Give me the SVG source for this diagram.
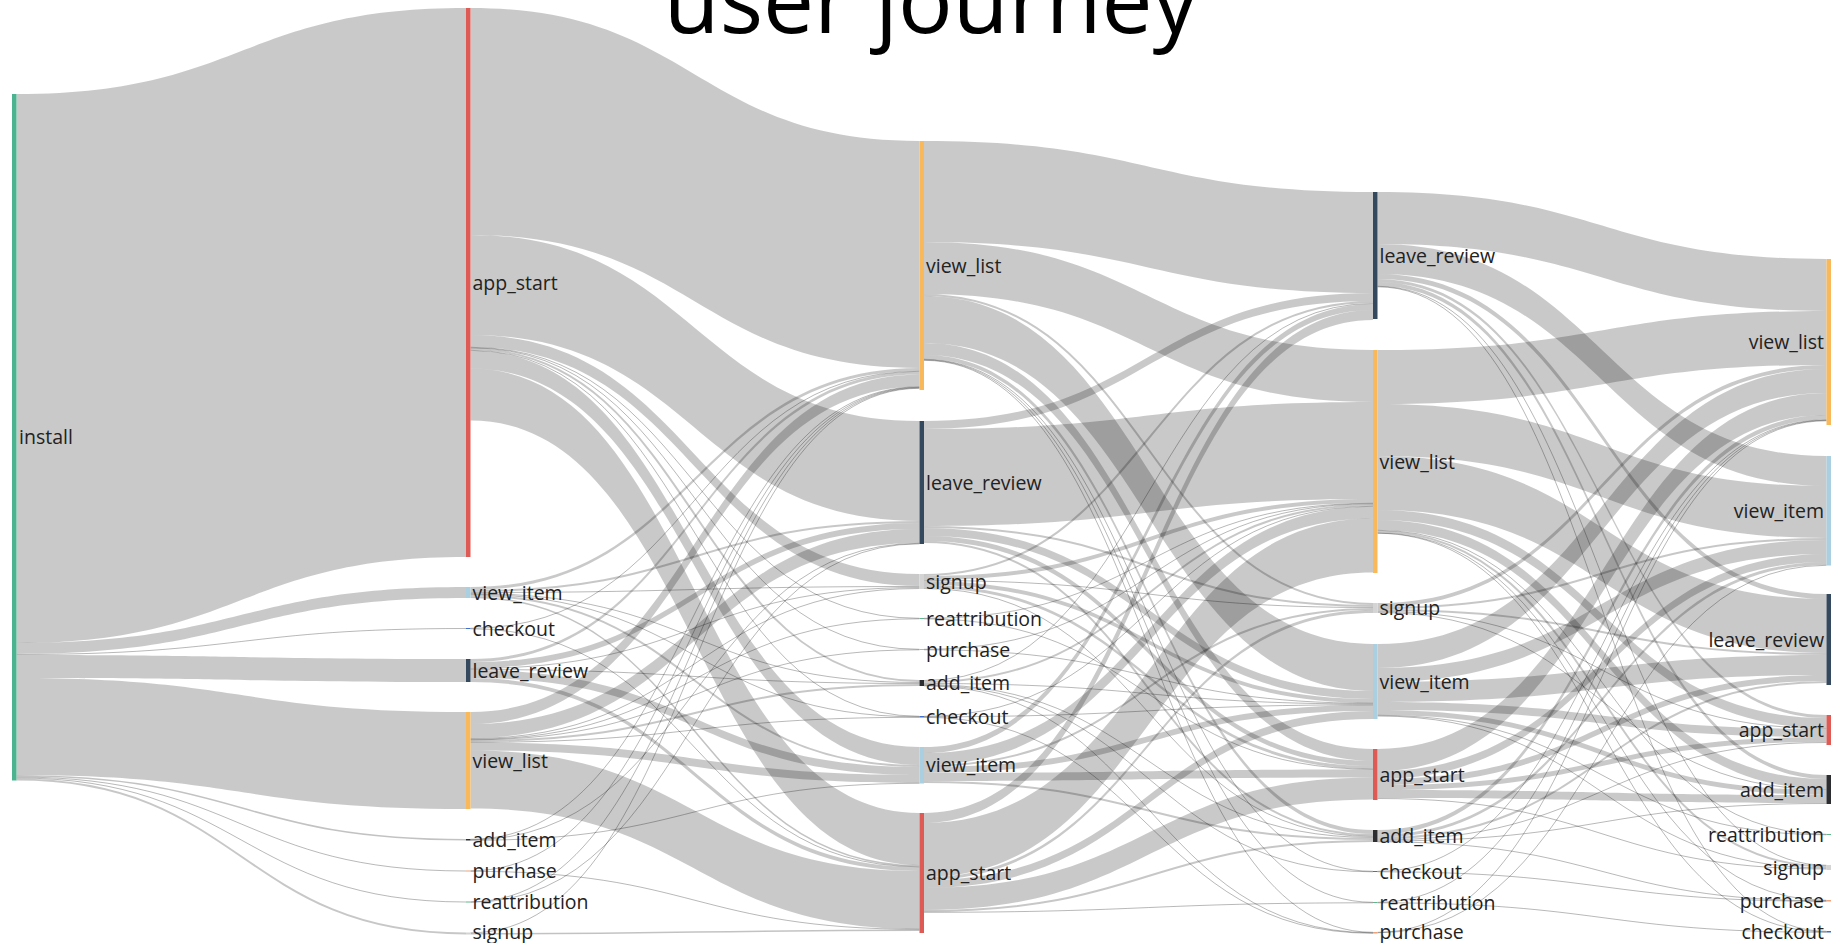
<svg xmlns="http://www.w3.org/2000/svg" width="1843" height="943" viewBox="0 0 1843 943">
<style>
.b{fill:#000;fill-opacity:.21}
.h{fill:none;stroke:#000;stroke-opacity:.28;stroke-width:1}
.m{fill:none;stroke:#000;stroke-opacity:.24;stroke-width:1.5}
.w{fill:none;stroke:#000;stroke-opacity:.22;stroke-width:2}
.lbl{font-family:"Open Sans","DejaVu Sans",sans-serif;font-size:19.5px;fill:#222}
.end{text-anchor:end}
.ttl{font-family:"Open Sans","DejaVu Sans",sans-serif;font-size:91px;fill:#000;text-anchor:middle}
.c-install{fill:#4cb391}.c-app{fill:#e05a55}.c-vi{fill:#a9cfe0}.c-co{fill:#3f6fd0}.c-lr{fill:#34495e}
.c-vl{fill:#f9b95a}.c-ai{fill:#2b2d30}.c-pu{fill:#f0a27a}.c-re{fill:#5cb88a}.c-su{fill:#d4d4d4}
</style>
<rect width="1843" height="943" fill="#fff"/>
<text class="ttl" x="931" y="33">user journey</text>

<g id="links">
<!-- step 0 -> step 1 -->
<path class="b" d="M16.5 94C241.3 94 241.3 8 466 8V557C241.3 557 241.3 643 16.5 643Z"/>
<path class="b" d="M16.5 643C241.3 643 241.3 587 466 587V598C241.3 598 241.3 654 16.5 654Z"/>
<path class="h" d="M16.5 654.5C241.3 654.5 241.3 628.5 466 628.5"/>
<path class="b" d="M16.5 655C241.3 655 241.3 659 466 659V682C241.3 682 241.3 678 16.5 678Z"/>
<path class="b" d="M16.5 678C241.3 678 241.3 712 466 712V809C241.3 809 241.3 775 16.5 775Z"/>
<path class="m" d="M16.5 775.8C241.3 775.8 241.3 839.8 466 839.8"/>
<path class="h" d="M16.5 777C241.3 777 241.3 871 466 871"/>
<path class="h" d="M16.5 778C241.3 778 241.3 902 466 902"/>
<path class="w" d="M16.5 779.5C241.3 779.5 241.3 933.5 466 933.5"/>

<!-- step 1 -> step 2 -->
<path class="b" d="M470.5 8C695 8 695 141 919.5 141V368C695 368 695 235 470.5 235Z"/>
<path class="b" d="M470.5 235C695 235 695 421 919.5 421V521C695 521 695 335 470.5 335Z"/>
<path class="b" d="M470.5 335C695 335 695 574 919.5 574V586C695 586 695 347 470.5 347Z"/>
<path class="h" d="M470.5 347.3C695 347.3 695 618.3 919.5 618.3"/>
<path class="h" d="M470.5 347.8C695 347.8 695 649.3 919.5 649.3"/>
<path class="w" d="M470.5 349C695 349 695 681 919.5 681"/>
<path class="h" d="M470.5 350.3C695 350.3 695 716.3 919.5 716.3"/>
<path class="b" d="M470.5 350.5C695 350.5 695 747 919.5 747V765C695 765 695 368.5 470.5 368.5Z"/>
<path class="b" d="M470.5 368.5C695 368.5 695 813 919.5 813V865C695 865 695 420.5 470.5 420.5Z"/>
<path class="b" d="M470.5 587C695 587 695 368 919.5 368V371C695 371 695 590 470.5 590Z"/>
<path class="w" d="M470.5 591C695 591 695 522 919.5 522"/>
<path class="h" d="M470.5 592.5C695 592.5 695 586.5 919.5 586.5"/>
<path class="h" d="M470.5 593.5C695 593.5 695 682.5 919.5 682.5"/>
<path class="h" d="M470.5 594.3C695 594.3 695 716.8 919.5 716.8"/>
<path class="w" d="M470.5 595.5C695 595.5 695 766 919.5 766"/>
<path class="m" d="M470.5 597.3C695 597.3 695 865.8 919.5 865.8"/>
<path class="h" d="M470.5 628.3C695 628.3 695 371.3 919.5 371.3"/>
<path class="h" d="M470.5 628.8C695 628.8 695 866.8 919.5 866.8"/>
<path class="b" d="M470.5 659C695 659 695 371.5 919.5 371.5V374.5C695 374.5 695 662 470.5 662Z"/>
<path class="b" d="M470.5 662C695 662 695 523 919.5 523V529C695 529 695 668 470.5 668Z"/>
<path class="h" d="M470.5 668.5C695 668.5 695 587.5 919.5 587.5"/>
<path class="h" d="M470.5 669.5C695 669.5 695 683.5 919.5 683.5"/>
<path class="b" d="M470.5 670C695 670 695 767 919.5 767V775C695 775 695 678 470.5 678Z"/>
<path class="b" d="M470.5 678C695 678 695 867 919.5 867V871C695 871 695 682 470.5 682Z"/>
<path class="b" d="M470.5 712C695 712 695 374.5 919.5 374.5V386.5C695 386.5 695 724 470.5 724Z"/>
<path class="b" d="M470.5 724C695 724 695 529 919.5 529V543C695 543 695 738 470.5 738Z"/>
<path class="h" d="M470.5 738.5C695 738.5 695 588.5 919.5 588.5"/>
<path class="h" d="M470.5 739.3C695 739.3 695 618.8 919.5 618.8"/>
<path class="h" d="M470.5 739.8C695 739.8 695 649.8 919.5 649.8"/>
<path class="w" d="M470.5 741C695 741 695 685 919.5 685"/>
<path class="h" d="M470.5 742.3C695 742.3 695 717.3 919.5 717.3"/>
<path class="b" d="M470.5 742.5C695 742.5 695 775 919.5 775V783C695 783 695 750.5 470.5 750.5Z"/>
<path class="b" d="M470.5 750.5C695 750.5 695 871 919.5 871V929C695 929 695 808.5 470.5 808.5Z"/>
<path class="h" d="M470.5 839.3C695 839.3 695 386.8 919.5 386.8"/>
<path class="h" d="M470.5 839.8C695 839.8 695 543.3 919.5 543.3"/>
<path class="h" d="M470.5 840.3C695 840.3 695 783.3 919.5 783.3"/>
<path class="h" d="M470.5 870.8C695 870.8 695 387.3 919.5 387.3"/>
<path class="h" d="M470.5 871.3C695 871.3 695 929.3 919.5 929.3"/>
<path class="h" d="M470.5 901.8C695 901.8 695 387.8 919.5 387.8"/>
<path class="h" d="M470.5 902.3C695 902.3 695 543.8 919.5 543.8"/>
<path class="h" d="M470.5 932.8C695 932.8 695 388.3 919.5 388.3"/>
<path class="m" d="M470.5 933.8C695 933.8 695 930.3 919.5 930.3"/>

<!-- step 2 -> step 3 -->
<path class="b" d="M924 141C1148.5 141 1148.5 192 1373 192V293C1148.5 293 1148.5 242 924 242Z"/>
<path class="b" d="M924 242C1148.5 242 1148.5 350 1373 350V402C1148.5 402 1148.5 294 924 294Z"/>
<path class="w" d="M924 295C1148.5 295 1148.5 604 1373 604"/>
<path class="b" d="M924 296C1148.5 296 1148.5 644 1373 644V691C1148.5 691 1148.5 343 924 343Z"/>
<path class="b" d="M924 343C1148.5 343 1148.5 749 1373 749V761C1148.5 761 1148.5 355 924 355Z"/>
<path class="b" d="M924 355C1148.5 355 1148.5 830 1373 830V834C1148.5 834 1148.5 359 924 359Z"/>
<path class="h" d="M924 359.3C1148.5 359.3 1148.5 871.3 1373 871.3"/>
<path class="h" d="M924 359.8C1148.5 359.8 1148.5 902.3 1373 902.3"/>
<path class="h" d="M924 360.3C1148.5 360.3 1148.5 932.3 1373 932.3"/>
<path class="b" d="M924 421C1148.5 421 1148.5 293 1373 293V301C1148.5 301 1148.5 429 924 429Z"/>
<path class="b" d="M924 429C1148.5 429 1148.5 402 1373 402V499C1148.5 499 1148.5 526 924 526Z"/>
<path class="w" d="M924 527C1148.5 527 1148.5 606 1373 606"/>
<path class="b" d="M924 528C1148.5 528 1148.5 691 1373 691V699C1148.5 699 1148.5 536 924 536Z"/>
<path class="b" d="M924 536C1148.5 536 1148.5 761 1373 761V766C1148.5 766 1148.5 541 924 541Z"/>
<path class="w" d="M924 542C1148.5 542 1148.5 835 1373 835"/>
<path class="w" d="M924 575C1148.5 575 1148.5 302 1373 302"/>
<path class="b" d="M924 576C1148.5 576 1148.5 499 1373 499V503C1148.5 503 1148.5 580 924 580Z"/>
<path class="h" d="M924 580.5C1148.5 580.5 1148.5 607.5 1373 607.5"/>
<path class="b" d="M924 581C1148.5 581 1148.5 699 1373 699V703C1148.5 703 1148.5 585 924 585Z"/>
<path class="b" d="M924 585C1148.5 585 1148.5 766 1373 766V769C1148.5 769 1148.5 588 924 588Z"/>
<path class="h" d="M924 588.5C1148.5 588.5 1148.5 836.5 1373 836.5"/>
<path class="h" d="M924 618.3C1148.5 618.3 1148.5 503.3 1373 503.3"/>
<path class="h" d="M924 618.8C1148.5 618.8 1148.5 769.3 1373 769.3"/>
<path class="h" d="M924 649.3C1148.5 649.3 1148.5 503.8 1373 503.8"/>
<path class="h" d="M924 649.8C1148.5 649.8 1148.5 703.3 1373 703.3"/>
<path class="h" d="M924 680.5C1148.5 680.5 1148.5 303.5 1373 303.5"/>
<path class="w" d="M924 682C1148.5 682 1148.5 505 1373 505"/>
<path class="h" d="M924 683.5C1148.5 683.5 1148.5 704 1373 704"/>
<path class="h" d="M924 684.5C1148.5 684.5 1148.5 837.5 1373 837.5"/>
<path class="h" d="M924 685.3C1148.5 685.3 1148.5 871.8 1373 871.8"/>
<path class="h" d="M924 685.8C1148.5 685.8 1148.5 932.8 1373 932.8"/>
<path class="h" d="M924 716.3C1148.5 716.3 1148.5 506.3 1373 506.3"/>
<path class="h" d="M924 716.8C1148.5 716.8 1148.5 704.8 1373 704.8"/>
<path class="h" d="M924 717.3C1148.5 717.3 1148.5 933.3 1373 933.3"/>
<path class="b" d="M924 747C1148.5 747 1148.5 304 1373 304V310C1148.5 310 1148.5 753 924 753Z"/>
<path class="b" d="M924 753C1148.5 753 1148.5 506.5 1373 506.5V518.5C1148.5 518.5 1148.5 765 924 765Z"/>
<path class="w" d="M924 766C1148.5 766 1148.5 609 1373 609"/>
<path class="b" d="M924 767C1148.5 767 1148.5 705 1373 705V711C1148.5 711 1148.5 773 924 773Z"/>
<path class="b" d="M924 773C1148.5 773 1148.5 769.5 1373 769.5V777.5C1148.5 777.5 1148.5 781 924 781Z"/>
<path class="w" d="M924 782C1148.5 782 1148.5 839 1373 839"/>
<path class="b" d="M924 813C1148.5 813 1148.5 310 1373 310V320C1148.5 320 1148.5 823 924 823Z"/>
<path class="b" d="M924 823C1148.5 823 1148.5 518.5 1373 518.5V572.5C1148.5 572.5 1148.5 877 924 877Z"/>
<path class="b" d="M924 877C1148.5 877 1148.5 610 1373 610V613C1148.5 613 1148.5 880 924 880Z"/>
<path class="b" d="M924 880C1148.5 880 1148.5 711 1373 711V719C1148.5 719 1148.5 888 924 888Z"/>
<path class="b" d="M924 888C1148.5 888 1148.5 777.5 1373 777.5V799.5C1148.5 799.5 1148.5 910 924 910Z"/>
<path class="w" d="M924 911C1148.5 911 1148.5 841 1373 841"/>
<path class="h" d="M924 912.3C1148.5 912.3 1148.5 902.8 1373 902.8"/>

<!-- step 3 -> step 4 -->
<path class="b" d="M1377.5 192C1602 192 1602 259 1826.5 259V311C1602 311 1602 244 1377.5 244Z"/>
<path class="b" d="M1377.5 244C1602 244 1602 456 1826.5 456V486C1602 486 1602 274 1377.5 274Z"/>
<path class="b" d="M1377.5 274C1602 274 1602 594 1826.5 594V599C1602 599 1602 279 1377.5 279Z"/>
<path class="b" d="M1377.5 279C1602 279 1602 715 1826.5 715V718C1602 718 1602 282 1377.5 282Z"/>
<path class="b" d="M1377.5 282C1602 282 1602 775 1826.5 775V779C1602 779 1602 286 1377.5 286Z"/>
<path class="h" d="M1377.5 286.3C1602 286.3 1602 865.3 1826.5 865.3"/>
<path class="h" d="M1377.5 286.8C1602 286.8 1602 931.3 1826.5 931.3"/>
<path class="b" d="M1377.5 350C1602 350 1602 311 1826.5 311V365C1602 365 1602 404 1377.5 404Z"/>
<path class="b" d="M1377.5 404C1602 404 1602 486 1826.5 486V538C1602 538 1602 456 1377.5 456Z"/>
<path class="b" d="M1377.5 456C1602 456 1602 599 1826.5 599V653C1602 653 1602 510 1377.5 510Z"/>
<path class="b" d="M1377.5 510C1602 510 1602 718 1826.5 718V728C1602 728 1602 520 1377.5 520Z"/>
<path class="b" d="M1377.5 520C1602 520 1602 779 1826.5 779V789C1602 789 1602 530 1377.5 530Z"/>
<path class="h" d="M1377.5 530.3C1602 530.3 1602 834.3 1826.5 834.3"/>
<path class="w" d="M1377.5 531.5C1602 531.5 1602 866.5 1826.5 866.5"/>
<path class="h" d="M1377.5 532.8C1602 532.8 1602 900.3 1826.5 900.3"/>
<path class="h" d="M1377.5 533.3C1602 533.3 1602 931.8 1826.5 931.8"/>
<path class="b" d="M1377.5 603C1602 603 1602 365 1826.5 365V369C1602 369 1602 607 1377.5 607Z"/>
<path class="w" d="M1377.5 608C1602 608 1602 539 1826.5 539"/>
<path class="w" d="M1377.5 610C1602 610 1602 654 1826.5 654"/>
<path class="h" d="M1377.5 611.5C1602 611.5 1602 728.5 1826.5 728.5"/>
<path class="h" d="M1377.5 612.5C1602 612.5 1602 789.5 1826.5 789.5"/>
<path class="b" d="M1377.5 644C1602 644 1602 369 1826.5 369V393C1602 393 1602 668 1377.5 668Z"/>
<path class="b" d="M1377.5 668C1602 668 1602 540 1826.5 540V554C1602 554 1602 682 1377.5 682Z"/>
<path class="b" d="M1377.5 682C1602 682 1602 655 1826.5 655V675C1602 675 1602 702 1377.5 702Z"/>
<path class="b" d="M1377.5 702C1602 702 1602 729 1826.5 729V737C1602 737 1602 710 1377.5 710Z"/>
<path class="b" d="M1377.5 710C1602 710 1602 790 1826.5 790V795C1602 795 1602 715 1377.5 715Z"/>
<path class="h" d="M1377.5 715.3C1602 715.3 1602 834.8 1826.5 834.8"/>
<path class="h" d="M1377.5 716C1602 716 1602 868 1826.5 868"/>
<path class="b" d="M1377.5 749C1602 749 1602 393 1826.5 393V415C1602 415 1602 771 1377.5 771Z"/>
<path class="b" d="M1377.5 771C1602 771 1602 554 1826.5 554V562C1602 562 1602 779 1377.5 779Z"/>
<path class="b" d="M1377.5 779C1602 779 1602 675 1826.5 675V681C1602 681 1602 785 1377.5 785Z"/>
<path class="b" d="M1377.5 785C1602 785 1602 737 1826.5 737V742C1602 742 1602 790 1377.5 790Z"/>
<path class="b" d="M1377.5 790C1602 790 1602 795 1826.5 795V803C1602 803 1602 798 1377.5 798Z"/>
<path class="h" d="M1377.5 798.5C1602 798.5 1602 869 1826.5 869"/>
<path class="b" d="M1377.5 830C1602 830 1602 415 1826.5 415V419.5C1602 419.5 1602 834.5 1377.5 834.5Z"/>
<path class="b" d="M1377.5 834.5C1602 834.5 1602 562 1826.5 562V565C1602 565 1602 837.5 1377.5 837.5Z"/>
<path class="w" d="M1377.5 838.5C1602 838.5 1602 682 1826.5 682"/>
<path class="h" d="M1377.5 840C1602 840 1602 742.5 1826.5 742.5"/>
<path class="h" d="M1377.5 841C1602 841 1602 803.5 1826.5 803.5"/>
<path class="h" d="M1377.5 841.8C1602 841.8 1602 900.8 1826.5 900.8"/>
<path class="h" d="M1377.5 871.3C1602 871.3 1602 419.8 1826.5 419.8"/>
<path class="h" d="M1377.5 871.8C1602 871.8 1602 901.3 1826.5 901.3"/>
<path class="h" d="M1377.5 902.3C1602 902.3 1602 420.3 1826.5 420.3"/>
<path class="h" d="M1377.5 902.8C1602 902.8 1602 932.3 1826.5 932.3"/>
<path class="h" d="M1377.5 932.3C1602 932.3 1602 420.8 1826.5 420.8"/>
<path class="h" d="M1377.5 932.8C1602 932.8 1602 565.3 1826.5 565.3"/>
</g>

<!-- step 0 -->
<g id="n0-install"><rect class="c-install" x="12" y="94" width="4.5" height="686.5"/><text class="lbl" x="19" y="444">install</text></g>

<!-- step 1 -->
<g id="n1-app_start"><rect class="c-app" x="466" y="8" width="4.5" height="549"/><text class="lbl" x="472.5" y="289.5">app_start</text></g>
<g id="n1-view_item"><rect class="c-vi" x="466" y="587" width="4.5" height="11"/><text class="lbl" x="472.5" y="599.5">view_item</text></g>
<g id="n1-checkout"><rect class="c-co" x="466" y="628" width="4.5" height="1"/><text class="lbl" x="472.5" y="635.5">checkout</text></g>
<g id="n1-leave_review"><rect class="c-lr" x="466" y="659" width="4.5" height="23"/><text class="lbl" x="472.5" y="677.5">leave_review</text></g>
<g id="n1-view_list"><rect class="c-vl" x="466" y="712" width="4.5" height="97"/><text class="lbl" x="472.5" y="767.5">view_list</text></g>
<g id="n1-add_item"><rect class="c-ai" x="466" y="839" width="4.5" height="1.5"/><text class="lbl" x="472.5" y="846.5">add_item</text></g>
<g id="n1-purchase"><rect class="c-pu" x="466" y="870.5" width="4.5" height="1"/><text class="lbl" x="472.5" y="878">purchase</text></g>
<g id="n1-reattribution"><rect class="c-re" x="466" y="901.5" width="4.5" height="1"/><text class="lbl" x="472.5" y="908.5">reattribution</text></g>
<g id="n1-signup"><rect class="c-su" x="466" y="932.5" width="4.5" height="2"/><text class="lbl" x="472.5" y="939">signup</text></g>

<!-- step 2 -->
<g id="n2-view_list"><rect class="c-vl" x="919.5" y="141" width="4.5" height="249"/><text class="lbl" x="926" y="272.5">view_list</text></g>
<g id="n2-leave_review"><rect class="c-lr" x="919.5" y="421" width="4.5" height="123"/><text class="lbl" x="926" y="489.5">leave_review</text></g>
<g id="n2-signup"><rect class="c-su" x="919.5" y="574" width="4.5" height="15"/><text class="lbl" x="926" y="588.5">signup</text></g>
<g id="n2-reattribution"><rect class="c-re" x="919.5" y="618" width="4.5" height="1"/><text class="lbl" x="926" y="625.5">reattribution</text></g>
<g id="n2-purchase"><rect class="c-pu" x="919.5" y="649" width="4.5" height="1"/><text class="lbl" x="926" y="656.5">purchase</text></g>
<g id="n2-add_item"><rect class="c-ai" x="919.5" y="680" width="4.5" height="6"/><text class="lbl" x="926" y="690">add_item</text></g>
<g id="n2-checkout"><rect class="c-co" x="919.5" y="716" width="4.5" height="1.5"/><text class="lbl" x="926" y="723.5">checkout</text></g>
<g id="n2-view_item"><rect class="c-vi" x="919.5" y="747" width="4.5" height="36.5"/><text class="lbl" x="926" y="772">view_item</text></g>
<g id="n2-app_start"><rect class="c-app" x="919.5" y="813" width="4.5" height="120"/><text class="lbl" x="926" y="880">app_start</text></g>

<!-- step 3 -->
<g id="n3-leave_review"><rect class="c-lr" x="1373" y="192" width="4.5" height="127"/><text class="lbl" x="1379.5" y="262.5">leave_review</text></g>
<g id="n3-view_list"><rect class="c-vl" x="1373" y="350" width="4.5" height="223"/><text class="lbl" x="1379.5" y="468.5">view_list</text></g>
<g id="n3-signup"><rect class="c-su" x="1373" y="603" width="4.5" height="10"/><text class="lbl" x="1379.5" y="615">signup</text></g>
<g id="n3-view_item"><rect class="c-vi" x="1373" y="644" width="4.5" height="75"/><text class="lbl" x="1379.5" y="688.5">view_item</text></g>
<g id="n3-app_start"><rect class="c-app" x="1373" y="749" width="4.5" height="51"/><text class="lbl" x="1379.5" y="781.5">app_start</text></g>
<g id="n3-add_item"><rect class="c-ai" x="1373" y="830" width="4.5" height="12"/><text class="lbl" x="1379.5" y="843">add_item</text></g>
<g id="n3-checkout"><rect class="c-co" x="1373" y="871" width="4.5" height="1"/><text class="lbl" x="1379.5" y="878.5">checkout</text></g>
<g id="n3-reattribution"><rect class="c-re" x="1373" y="902" width="4.5" height="1"/><text class="lbl" x="1379.5" y="909.5">reattribution</text></g>
<g id="n3-purchase"><rect class="c-pu" x="1373" y="932" width="4.5" height="1.5"/><text class="lbl" x="1379.5" y="939">purchase</text></g>

<!-- step 4 -->
<g id="n4-view_list"><rect class="c-vl" x="1826.5" y="259" width="4.5" height="166"/><text class="lbl end" x="1824" y="349">view_list</text></g>
<g id="n4-view_item"><rect class="c-vi" x="1826.5" y="456" width="4.5" height="109.5"/><text class="lbl end" x="1824" y="517.5">view_item</text></g>
<g id="n4-leave_review"><rect class="c-lr" x="1826.5" y="594" width="4.5" height="91"/><text class="lbl end" x="1824" y="646.5">leave_review</text></g>
<g id="n4-app_start"><rect class="c-app" x="1826.5" y="715" width="4.5" height="30"/><text class="lbl end" x="1824" y="737">app_start</text></g>
<g id="n4-add_item"><rect class="c-ai" x="1826.5" y="775" width="4.5" height="29"/><text class="lbl end" x="1824" y="796.5">add_item</text></g>
<g id="n4-reattribution"><rect class="c-re" x="1826.5" y="834" width="4.5" height="1"/><text class="lbl end" x="1824" y="841.5">reattribution</text></g>
<g id="n4-signup"><rect class="c-su" x="1826.5" y="865" width="4.5" height="5"/><text class="lbl end" x="1824" y="874.5">signup</text></g>
<g id="n4-purchase"><rect class="c-pu" x="1826.5" y="900" width="4.5" height="1.5"/><text class="lbl end" x="1824" y="907.5">purchase</text></g>
<g id="n4-checkout"><rect class="c-co" x="1826.5" y="931" width="4.5" height="1.5"/><text class="lbl end" x="1824" y="938.5">checkout</text></g>
</svg>
